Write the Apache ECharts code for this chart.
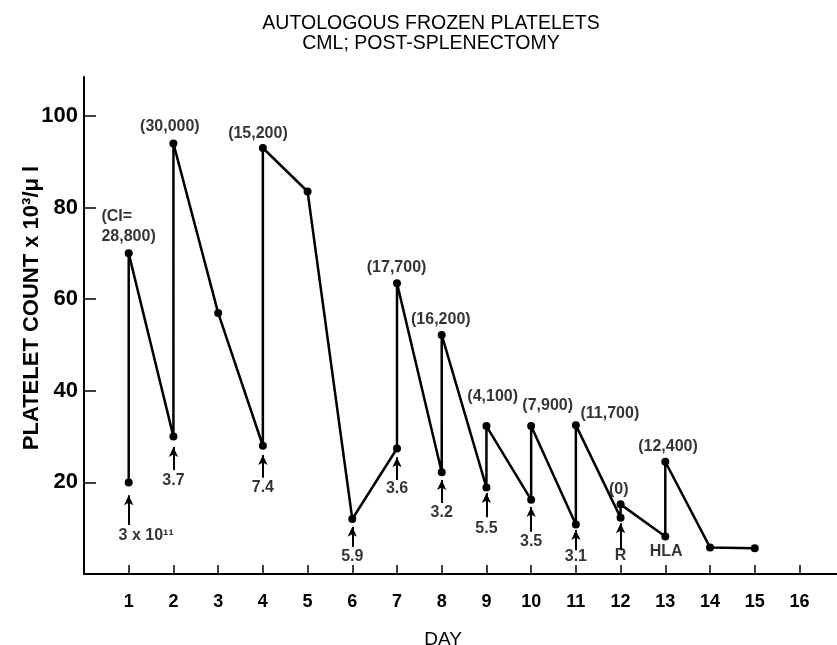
<!DOCTYPE html>
<html>
<head>
<meta charset="utf-8">
<script src="https://cdn.jsdelivr.net/npm/echarts@6/dist/echarts.min.js"></script>
<style>html,body{margin:0;padding:0;background:#fff;}#c{width:837px;height:645px;}</style>
</head>
<body>
<div id="c"></div>
<script>
// Platelet count path (day, count x10^3/ul), in drawing order
const days   = [1, 1, 2, 2, 3, 4, 4, 5, 6, 7, 7, 8, 8, 9, 9, 10, 10, 11, 11, 12, 12, 13, 13, 14, 15];
const counts = [20, 70, 30, 94, 57, 28, 93, 83.5, 12, 27.4, 63.5, 22.2, 52.2, 18.9, 32.3, 16.2, 32.3, 10.8, 32.5, 12.3, 15.2, 8.2, 24.5, 5.8, 5.6];

// Increment (CI) annotations above peaks
const ciText   = ["(CI=\n28,800)", "(30,000)", "(15,200)", "(17,700)", "(16,200)", "(4,100)", "(7,900)", "(11,700)", "(0)", "(12,400)"];
const ciDays   = [0.39, 1.92, 3.89, 6.99, 7.98, 9.14, 10.37, 11.76, 11.96, 13.06];
const ciValues = [75.8, 97.7, 96.2, 66.8, 55.6, 38.7, 36.7, 35.1, 18.5, 27.8];

// Dose annotations below troughs
const doseText   = ["3 x 10¹¹", "3.7", "7.4", "5.9", "3.6", "3.2", "5.5", "3.5", "3.1", "R", "HLA"];
const doseDays   = [1.39, 2, 4, 6, 7, 8, 9, 10, 11, 12, 13.02];
const doseValues = [8.3, 20.5, 18.8, 3.7, 18.6, 13.3, 10.0, 7.0, 3.9, 4.1, 5.0];

// Arrows (day, bottom value -> top value)
const arrowDays   = [1, 2, 4, 6, 7, 8, 9, 10, 11, 12];
const arrowTop    = [17.2, 27.7, 26, 10.3, 25.5, 20.5, 17.7, 14.6, 9.6, 11.1];
const arrowBottom = [10.7, 22.7, 21, 5.9, 20.5, 15.5, 12.4, 9.2, 5.2, 5.2];

// Axis ticks
const xTicks = [1,2,3,4,5,6,7,8,9,10,11,12,13,14,15,16];
const yTicks = [20, 40, 60, 80, 100];

const FONT = '"Liberation Sans", Arial, Helvetica, sans-serif';
const chart = echarts.init(document.getElementById('c'), null, {renderer: 'canvas'});

const lineData = days.map((d, i) => [d, counts[i]]);
const ciData = ciText.map((t, i) => {
  const item = {name: t, value: [ciDays[i], ciValues[i]]};
  if (i === 0) item.label = {align: 'left'};
  return item;
});
const doseData = doseText.map((t, i) => ({name: t, value: [doseDays[i], doseValues[i]]}));
const arrowData = arrowDays.map((d, i) => [{coord: [d, arrowBottom[i]]}, {coord: [d, arrowTop[i]]}]);

chart.setOption({
  animation: false,
  backgroundColor: '#fff',
  title: [{
    text: 'AUTOLOGOUS FROZEN PLATELETS\nCML; POST-SPLENECTOMY',
    left: 426, top: 9, textAlign: 'center',
    textStyle: {fontFamily: FONT, fontSize: 19.5, fontWeight: 'normal', color: '#000', lineHeight: 20}
  }, {
    text: 'DAY',
    left: 438, top: 625, textAlign: 'center',
    textStyle: {fontFamily: FONT, fontSize: 19, fontWeight: 'normal', color: '#000'}
  }],
  graphic: [{
    type: 'text',
    x: 32, y: 308, rotation: Math.PI / 2,
    style: {
      text: 'PLATELET COUNT x 10³/μ l',
      fontFamily: FONT, fontSize: 22, fontWeight: 'bold', fill: '#000',
      align: 'center', verticalAlign: 'middle'
    }
  }],
  grid: {left: 84, right: 0, top: 77, bottom: 71, containLabel: false},
  xAxis: {
    type: 'value', min: 0, max: 16.84, interval: 1,
    splitLine: {show: false},
    axisLine: {show: true, lineStyle: {color: '#000', width: 2}},
    axisTick: {show: true, inside: true, length: 9, lineStyle: {color: '#000', width: 1.5}, customValues: xTicks},
    axisLabel: {customValues: xTicks, margin: 19, fontFamily: FONT, fontSize: 18, fontWeight: 'bold', color: '#000'}
  },
  yAxis: {
    type: 'value', min: 0, max: 108.5, interval: 20,
    splitLine: {show: false},
    axisLine: {show: true, lineStyle: {color: '#000', width: 2}},
    axisTick: {show: true, inside: true, length: 12, lineStyle: {color: '#000', width: 1.5}, customValues: yTicks},
    axisLabel: {customValues: yTicks, margin: 6, fontFamily: FONT, fontSize: 22, fontWeight: 'bold', color: '#000'}
  },
  series: [{
    type: 'line',
    data: lineData,
    symbol: 'circle', symbolSize: 8,
    itemStyle: {color: '#000'},
    lineStyle: {color: '#000', width: 2.5},
    z: 3
  }, {
    type: 'scatter',
    data: ciData,
    symbolSize: 0,
    silent: true,
    label: {
      show: true, position: 'inside', formatter: p => p.name,
      fontFamily: FONT, fontSize: 16, fontWeight: 'bold', color: '#000', lineHeight: 20
    }
  }, {
    type: 'scatter',
    data: doseData,
    symbolSize: 0,
    silent: true,
    label: {
      show: true, position: 'inside', formatter: p => p.name,
      fontFamily: FONT, fontSize: 16, fontWeight: 'bold', color: '#000'
    }
  }, {
    type: 'line',
    data: [],
    silent: true,
    markLine: {
      silent: true,
      symbol: ['none', 'arrow'],
      symbolSize: [7, 10],
      label: {show: false},
      lineStyle: {color: '#000', width: 2, type: 'solid'},
      data: arrowData
    }
  }]
});
</script>
</body>
</html>
